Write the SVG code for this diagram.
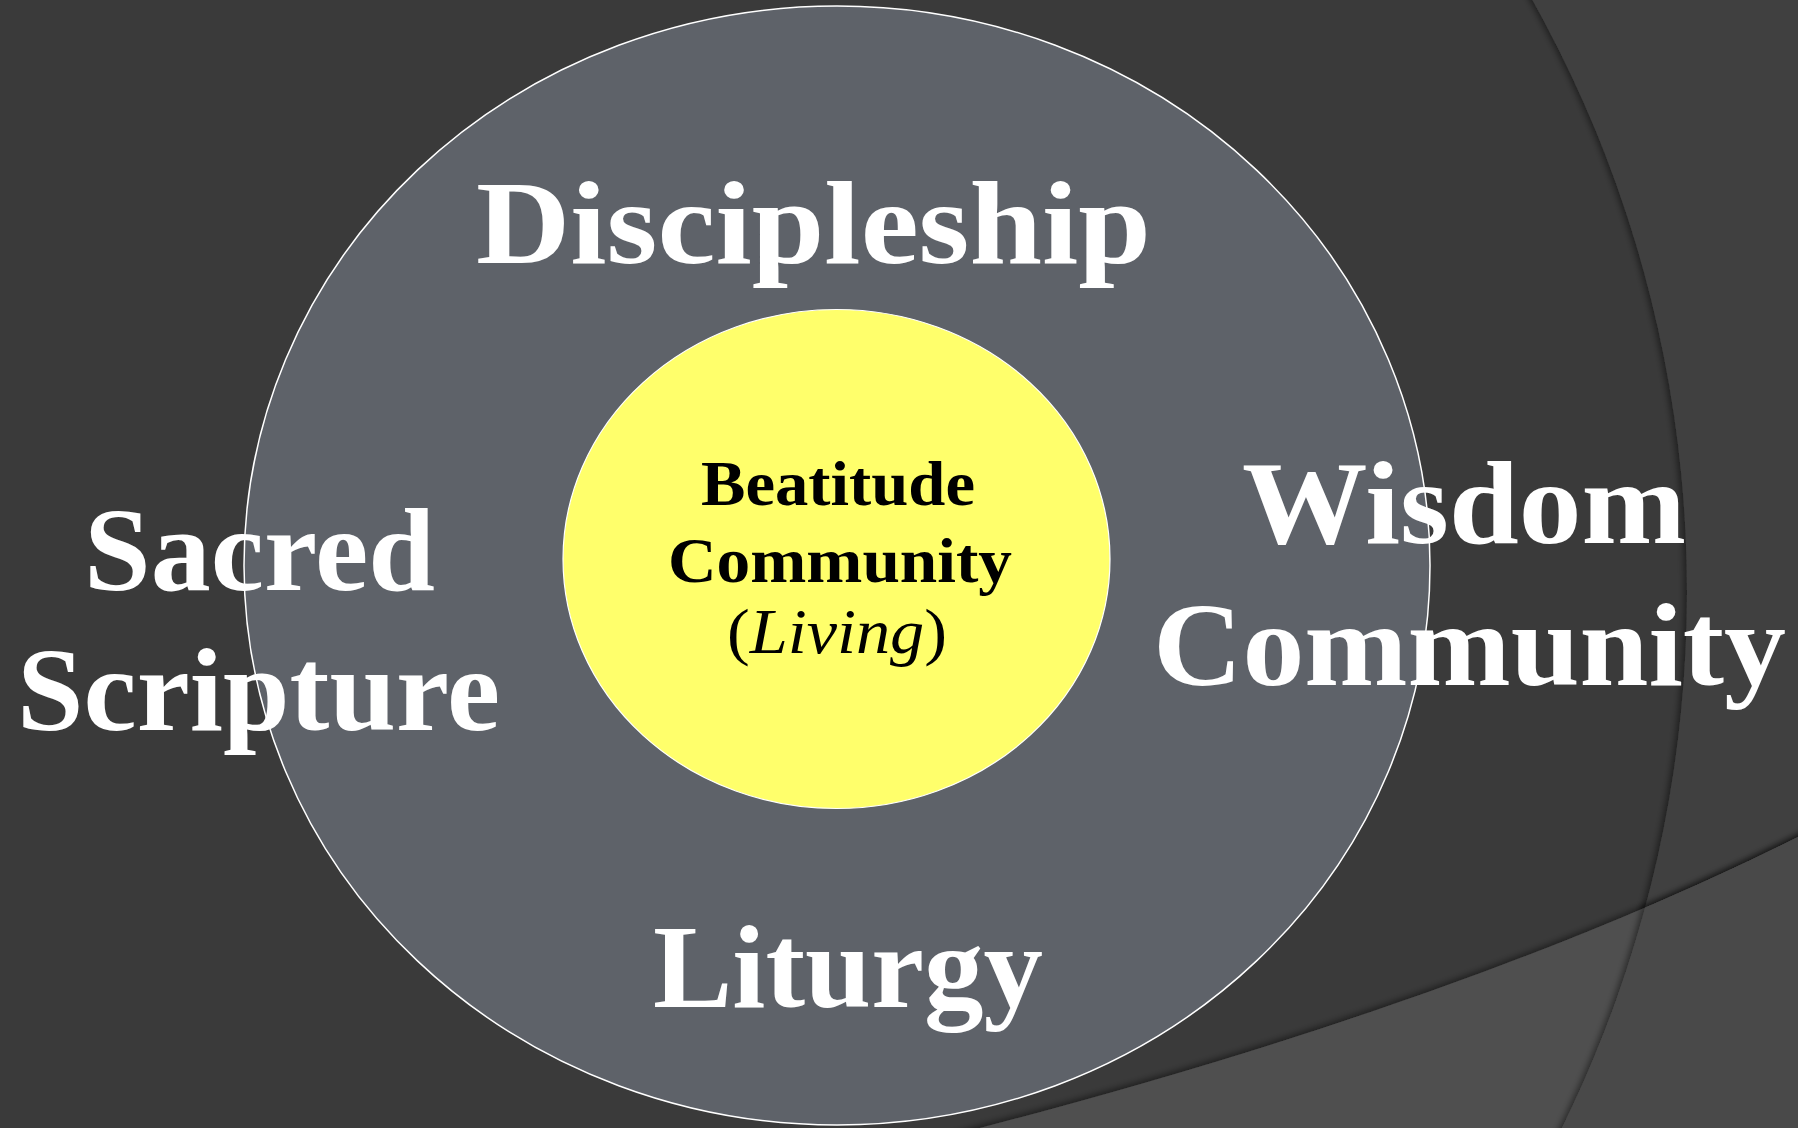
<svg xmlns="http://www.w3.org/2000/svg" width="1798" height="1128" viewBox="0 0 1798 1128">
<style>
.big{font-family:"Liberation Serif","Times New Roman",serif;font-weight:bold;font-size:118px;fill:#ffffff;}
.small{font-family:"Liberation Serif","Times New Roman",serif;font-weight:bold;font-size:64px;fill:#000000;}
.it{font-weight:normal;font-style:italic;}
.par{font-weight:normal;font-style:normal;}
</style>
<defs>
<filter id="shL" x="-20%" y="-20%" width="140%" height="140%">
<feDropShadow dx="-3" dy="0" stdDeviation="3" flood-color="#000" flood-opacity="0.45"/>
</filter>
<filter id="shU" x="-20%" y="-20%" width="140%" height="140%">
<feDropShadow dx="0" dy="-3" stdDeviation="3" flood-color="#000" flood-opacity="0.45"/>
</filter>
<clipPath id="outside">
<path clip-rule="evenodd" d="M-50,-50 H1850 V1200 H-50 Z M-735,592 a1211,1211 0 1,0 2422,0 a1211,1211 0 1,0 -2422,0 Z"/>
</clipPath>
</defs>
<g id="background">
<rect x="0" y="0" width="1798" height="1128" fill="#3a3a3a"/>
<path filter="url(#shL)" fill="#404040" fill-rule="evenodd" d="M-50,-50 H1850 V1200 H-50 Z M-735,592 a1211,1211 0 1,0 2422,0 a1211,1211 0 1,0 -2422,0 Z"/>
<path filter="url(#shU)" fill="#505050" d="M940,1140 L980,1128 Q1472,1000 1798,837 L1830,820 L1830,1180 L930,1180 Z"/>
<g filter="url(#shL)">
<path clip-path="url(#outside)" fill="#4a4a4a" d="M940,1140 L980,1128 Q1472,1000 1798,837 L1830,820 L1830,1180 L930,1180 Z"/>
</g>
</g>
<g id="outer-circle">
<ellipse cx="837" cy="565.5" rx="593" ry="559.5" fill="#5e6269" stroke="#ffffff" stroke-width="1.5"/>
</g>
<g id="inner-circle">
<ellipse cx="836.5" cy="559" rx="273.5" ry="249.5" fill="#ffff6b" stroke="#ffffff" stroke-width="1.2"/>
<text class="small" x="701" y="505" textLength="274" lengthAdjust="spacingAndGlyphs">Beatitude</text>
<text class="small" x="668" y="582" textLength="344" lengthAdjust="spacingAndGlyphs">Community</text>
<text class="small" x="727" y="653" textLength="220" lengthAdjust="spacingAndGlyphs"><tspan class="par">(</tspan><tspan class="it">Living</tspan><tspan class="par">)</tspan></text>
</g>
<g id="discipleship">
<text class="big" x="476" y="263" textLength="675" lengthAdjust="spacingAndGlyphs">Discipleship</text>
</g>
<g id="sacred-scripture">
<text class="big" x="84" y="590" textLength="351" lengthAdjust="spacingAndGlyphs">Sacred</text>
<text class="big" x="17" y="730" textLength="483" lengthAdjust="spacingAndGlyphs">Scripture</text>
</g>
<g id="wisdom-community">
<text class="big" x="1242" y="543" textLength="444" lengthAdjust="spacingAndGlyphs">Wisdom</text>
<text class="big" x="1153" y="685" textLength="633" lengthAdjust="spacingAndGlyphs">Community</text>
</g>
<g id="liturgy">
<text class="big" x="653" y="1007" textLength="390" lengthAdjust="spacingAndGlyphs">Liturgy</text>
</g>
</svg>
